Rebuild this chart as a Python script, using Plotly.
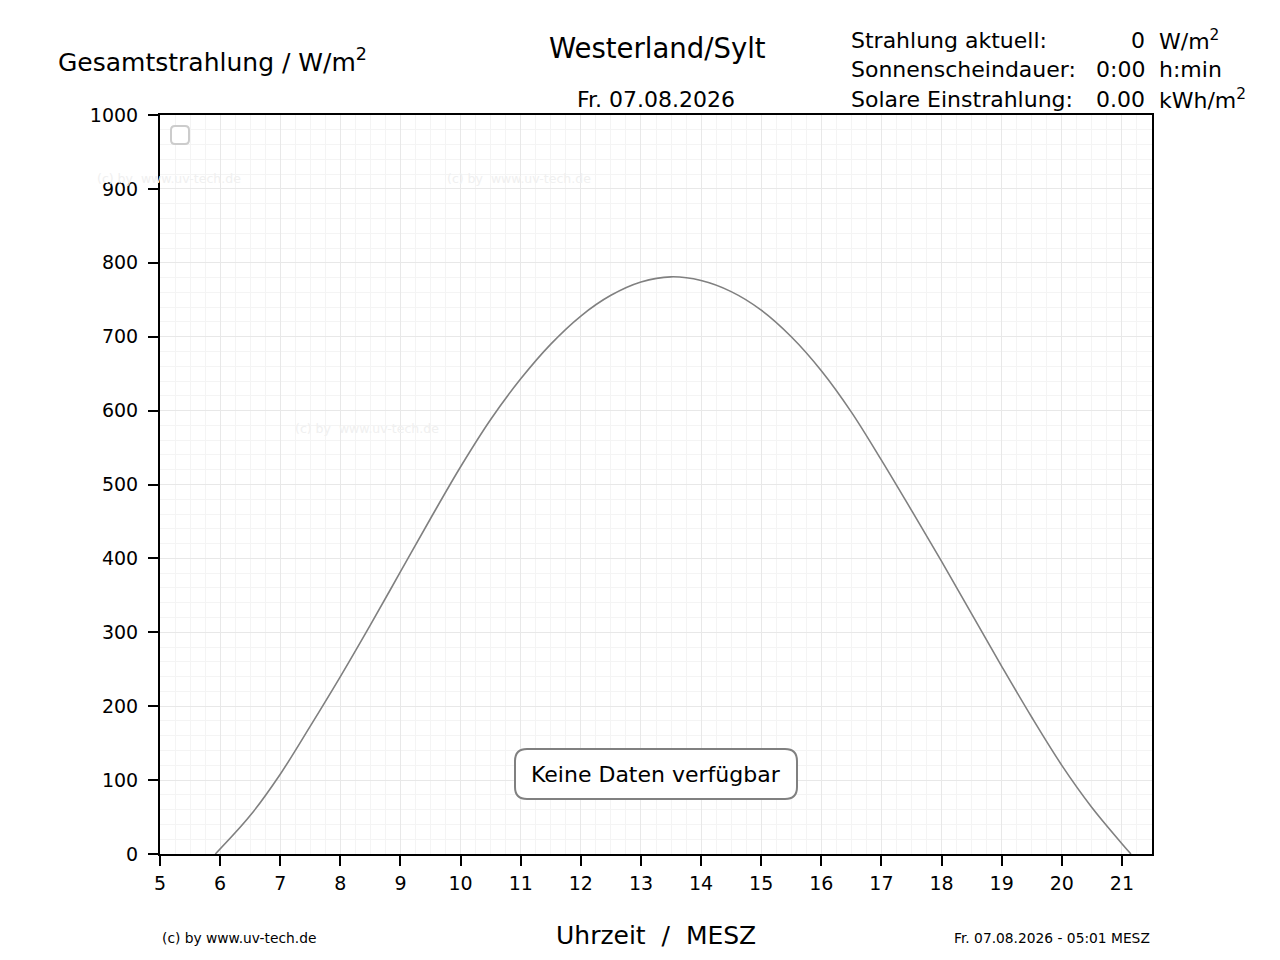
"""Gesamtstrahlung Westerland/Sylt - Tagesgang (Plotly)."""

import plotly.graph_objects as go

# clear-sky curve
hours = [5.92, 6.5, 7.0, 7.5, 8.0, 8.5, 9.0, 9.5, 10.0, 10.5, 11.0, 11.5,
         12.0, 12.5, 13.0, 13.5, 14.0, 14.5, 15.0, 15.5, 16.0, 16.5, 17.0,
         17.5, 18.0, 18.5, 19.0, 19.5, 20.0, 20.5, 21.0, 21.15]
radiation = [0, 52, 108, 173, 240, 310, 382, 454, 524, 588, 643, 690,
             728, 756, 774, 781, 776, 761, 736, 700, 654, 598, 533,
             465, 396, 325, 254, 185, 120, 63, 14, 0]

x_ticks = list(range(5, 22))
y_ticks = list(range(0, 1001, 100))

station = "Westerland/Sylt"
date_label = "Fr. 07.08.2026"
stamp = "Fr. 07.08.2026 - 05:01 MESZ"
info_labels = ["Strahlung aktuell:", "Sonnenscheindauer:", "Solare Einstrahlung:"]
info_values = ["0", "0:00", "0.00"]
info_units = ["W/m<sup>2</sup>", "h:min", "kWh/m<sup>2</sup>"]

FONT = "DejaVu Sans"
NB = "\u00a0"
W, H = 1280, 960
L, R, T, B = 160, 1152, 115, 854   # plot area in page pixels
OFF = 8                            # page body margin


def px(x):
    return (x - L) / (R - L)


def py(y):
    return (B - y) / (B - T)


def rounded_rect(x0, y0, x1, y1, r):
    """SVG path of a rounded rectangle in paper coords."""
    rx = r / (R - L)
    ry = r / (B - T)
    return (f"M{x0 + rx},{y0} L{x1 - rx},{y0} Q{x1},{y0} {x1},{y0 + ry} "
            f"L{x1},{y1 - ry} Q{x1},{y1} {x1 - rx},{y1} L{x0 + rx},{y1} "
            f"Q{x0},{y1} {x0},{y1 - ry} L{x0},{y0 + ry} Q{x0},{y0} {x0 + rx},{y0} Z")


fig = go.Figure(
    go.Scatter(
        x=hours,
        y=radiation,
        mode="lines",
        line=dict(color="#808080", width=1.6, shape="spline", smoothing=1.0),
        hoverinfo="skip",
        showlegend=False,
    )
)

axis_common = dict(
    showline=True,
    linecolor="black",
    linewidth=2,
    mirror=True,
    ticks="outside",
    ticklen=10,
    tickwidth=2,
    tickcolor="black",
    tickfont=dict(family=FONT, size=19, color="black"),
    showgrid=True,
    gridcolor="#e8e8e8",
    gridwidth=1,
    zeroline=False,
)

fig.update_xaxes(
    range=[5, 21.5],
    tickvals=x_ticks,
    ticklabelstandoff=1,
    minor=dict(dtick=0.25, showgrid=True, gridcolor="#f4f4f4", gridwidth=1, ticks=""),
    **axis_common,
)
fig.update_yaxes(
    range=[0, 1000],
    tickvals=y_ticks,
    ticklabelstandoff=6,
    minor=dict(dtick=20, showgrid=True, gridcolor="#f4f4f4", gridwidth=1, ticks=""),
    **axis_common,
)

ann = []


def text(x, y, s, size, xanchor="center", color="black"):
    ann.append(dict(
        x=px(x), y=py(y), xref="paper", yref="paper", text=s, showarrow=False,
        xanchor=xanchor, yanchor="middle",
        font=dict(family=FONT, size=size, color=color),
    ))


text(657, 48, station, 27.5)
text(656, 99, date_label, 22)
text(56, 61, "Gesamtstrahlung / W/m<sup>2</sup>", 25, xanchor="left")
text(656, 935, f"Uhrzeit{NB} /{NB} MESZ", 25)
text(160, 938, "(c) by www.uv-tech.de", 13.8, xanchor="left")
text(1152, 938, stamp, 13.8, xanchor="right")

for i, (lab, val, unit) in enumerate(zip(info_labels, info_values, info_units)):
    y = 40 + i * 29.5
    text(849, y, lab, 22, xanchor="left")
    text(1147, y, val, 22, xanchor="right")
    text(1157, y, unit, 22, xanchor="left")

# faint watermarks
for wx, wy in [(95, 178), (445, 178), (293, 428)]:
    text(wx, wy, f"(c) by{NB} www.uv-tech.de", 12.5, xanchor="left", color="#f0f0f0")

text(656, 774, "Keine Daten verfügbar", 22)

fig.update_layout(
    width=W,
    height=H,
    margin=dict(l=L - OFF, r=W - R + OFF, t=T - OFF, b=H - B + OFF, pad=0),
    paper_bgcolor="white",
    plot_bgcolor="white",
    font=dict(family=FONT, color="black"),
    annotations=ann,
    shapes=[
        # empty legend box
        dict(type="path", xref="paper", yref="paper",
             path=rounded_rect(px(171), py(144), px(189), py(126), 4),
             line=dict(color="#cccccc", width=2), fillcolor="white"),
        # "no data" box
        dict(type="path", xref="paper", yref="paper",
             path=rounded_rect(px(515), py(799), px(797), py(749), 12),
             line=dict(color="#808080", width=2), fillcolor="white"),
    ],
)

fig.write_html("out.html")
